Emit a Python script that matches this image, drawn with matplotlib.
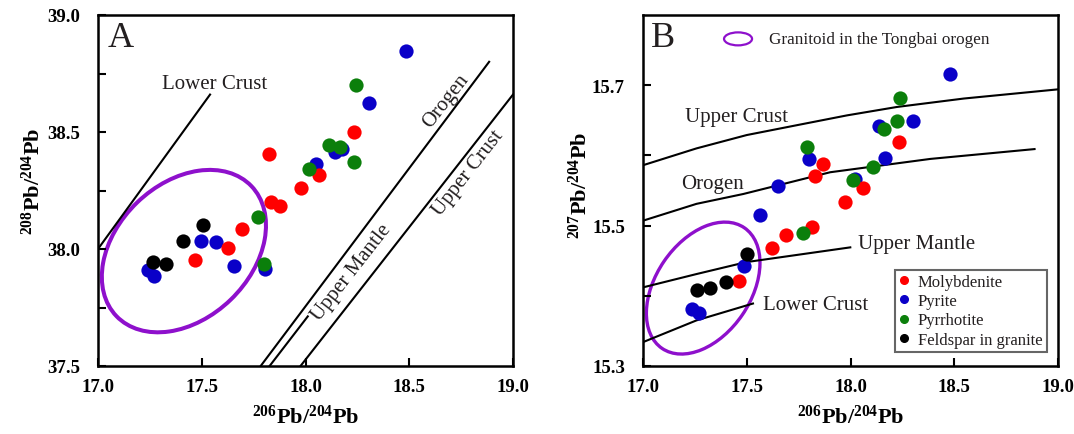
import matplotlib
matplotlib.use("Agg")
import matplotlib.pyplot as plt
from matplotlib.patches import Ellipse
from matplotlib.lines import Line2D
from matplotlib.transforms import Affine2D

plt.rcParams['font.family'] = ['Liberation Serif', 'DejaVu Serif']
plt.rcParams['mathtext.fontset'] = 'custom'
plt.rcParams['mathtext.rm'] = 'Liberation Serif:bold'
plt.rcParams['mathtext.it'] = 'Liberation Serif:bold'
plt.rcParams['mathtext.bf'] = 'Liberation Serif:bold'

# ---- data, panel A (208Pb/204Pb vs 206Pb/204Pb) ----
a_moly_x = [18.236, 17.824, 18.066, 17.978, 17.832, 17.875, 17.695, 17.625, 17.466]
a_moly_y = [38.501, 38.405, 38.318, 38.259, 38.202, 38.185, 38.085, 38.003, 37.952]
a_pyr_x = [18.484, 18.306, 18.144, 18.176, 18.051, 17.495, 17.571, 17.239, 17.271, 17.655, 17.805]
a_pyr_y = [38.845, 38.623, 38.416, 38.427, 38.363, 38.034, 38.029, 37.910, 37.883, 37.926, 37.915]
a_pyrr_x = [18.244, 18.115, 18.168, 18.232, 18.018, 17.772, 17.800]
a_pyrr_y = [38.701, 38.446, 38.437, 38.373, 38.342, 38.135, 37.936]
a_feld_x = [17.505, 17.409, 17.263, 17.330]
a_feld_y = [38.103, 38.034, 37.943, 37.935]

a_lower_crust_x = [17.0, 17.54]
a_lower_crust_y = [38.0, 38.66]
a_orogen_x = [17.784, 18.885]
a_orogen_y = [37.5, 38.80]
a_upper_crust_x = [17.976, 19.0]
a_upper_crust_y = [37.5, 38.66]
a_upper_mantle_x = [17.827, 18.011]
a_upper_mantle_y = [37.5, 37.712]

# ---- data, panel B (207Pb/204Pb vs 206Pb/204Pb) ----
b_moly_x = [18.232, 17.869, 17.830, 18.059, 17.974, 17.816, 17.691, 17.622, 17.463]
b_moly_y = [15.619, 15.588, 15.571, 15.553, 15.533, 15.498, 15.486, 15.468, 15.421]
b_pyr_x = [18.479, 18.300, 18.136, 17.798, 18.166, 17.651, 18.024, 17.566, 17.488, 17.234, 17.271]
b_pyr_y = [15.716, 15.649, 15.642, 15.595, 15.596, 15.557, 15.566, 15.515, 15.442, 15.381, 15.376]
b_pyrr_x = [18.239, 18.226, 18.162, 17.790, 18.108, 18.013, 17.771]
b_pyrr_y = [15.682, 15.649, 15.637, 15.612, 15.583, 15.565, 15.490]
b_feld_x = [17.501, 17.402, 17.322, 17.260]
b_feld_y = [15.460, 15.420, 15.411, 15.408]

b_upper_crust_x = [17.0, 17.258, 17.50, 17.741, 17.983, 18.224, 18.546, 18.997]
b_upper_crust_y = [15.586, 15.610, 15.629, 15.643, 15.657, 15.669, 15.681, 15.694]
b_orogen_x = [17.0, 17.258, 17.483, 17.902, 18.385, 18.887]
b_orogen_y = [15.507, 15.531, 15.545, 15.576, 15.595, 15.609]
b_upper_mantle_x = [17.0, 17.258, 17.498, 17.999]
b_upper_mantle_y = [15.412, 15.431, 15.448, 15.469]
b_lower_crust_x = [17.0, 17.258, 17.53]
b_lower_crust_y = [15.334, 15.365, 15.389]

names = ['Molybdenite', 'Pyrite', 'Pyrrhotite', 'Feldspar in granite']
colors = ['#ff0000', '#0a00c8', '#0b7f0b', '#000000']
purple = '#8e10cc'

fig = plt.figure(figsize=(10.74, 4.35), dpi=100)
axA = fig.add_axes([98 / 1074, 1 - 367 / 435, 415 / 1074, 351 / 435])
axB = fig.add_axes([643 / 1074, 1 - 367 / 435, 415 / 1074, 351 / 435])


def style(ax):
    for s in ax.spines.values():
        s.set_linewidth(1.8)
    ax.tick_params(which='both', direction='in', length=5.5, width=1.5,
                   top=False, right=False)
    ax.tick_params(axis='x', pad=9)
    ax.tick_params(axis='y', pad=13)
    for lab in ax.get_xticklabels() + ax.get_yticklabels():
        lab.set_fontweight('bold')
        lab.set_fontsize(13.5)
    ax.set_xlabel(r'$^{206}$Pb/$^{204}$Pb', fontsize=16, fontweight='bold')
    ax.xaxis.set_label_coords(0.5, -0.11)


def scatter(ax, xs, ys):
    # drawing order: pyrite, molybdenite, pyrrhotite, feldspar
    for i in [1, 0, 2, 3]:
        ax.scatter(xs[i], ys[i], s=105, color=colors[i], linewidths=0, zorder=3)


# ---------------- Panel A ----------------
axA.set_xlim(17.0, 19.0)
axA.set_ylim(37.5, 39.0)
axA.set_xticks([17.0, 17.5, 18.0, 18.5, 19.0])
axA.set_xticklabels(['17.0', '17.5', '18.0', '18.5', '19.0'])
axA.set_yticks([37.5, 38.0, 38.5, 39.0])
axA.set_yticklabels(['37.5', '38.0', '38.5', '39.0'])
axA.set_yticks([37.75, 38.25, 38.75], minor=True)
style(axA)
axA.set_ylabel(r'$^{208}$Pb/$^{204}$Pb', fontsize=16, fontweight='bold')
axA.yaxis.set_label_coords(-0.128, 0.53)

for lx, ly in [(a_lower_crust_x, a_lower_crust_y), (a_orogen_x, a_orogen_y),
               (a_upper_crust_x, a_upper_crust_y), (a_upper_mantle_x, a_upper_mantle_y)]:
    axA.plot(lx, ly, color='black', lw=1.5, zorder=2)

axA.text(17.564, 38.707, 'Lower Crust', fontsize=15, ha='center', va='center', color='#231f20')
axA.text(18.676, 38.636, 'Orogen', fontsize=15, ha='center', va='center', rotation=52, color='#231f20')
axA.text(18.783, 38.327, 'Upper Crust', fontsize=15, ha='center', va='center', rotation=52, color='#231f20')
axA.text(18.224, 37.901, 'Upper Mantle', fontsize=15, ha='center', va='center', rotation=52, color='#231f20')
axA.text(0.022, 0.935, 'A', transform=axA.transAxes, fontsize=26, ha='left', va='center', color='#231f20')

ellA = Ellipse((0, 0), 2 * 93.5, 2 * 67.3, angle=43.9, fill=False, ec=purple, lw=2.9,
               transform=Affine2D().scale(1 / 207.2, 1 / 233.3).translate(17.414, 37.991) + axA.transData)
axA.add_patch(ellA)

scatter(axA, [a_moly_x, a_pyr_x, a_pyrr_x, a_feld_x], [a_moly_y, a_pyr_y, a_pyrr_y, a_feld_y])

# ---------------- Panel B ----------------
axB.set_xlim(17.0, 19.0)
axB.set_ylim(15.3, 15.8)
axB.set_xticks([17.0, 17.5, 18.0, 18.5, 19.0])
axB.set_xticklabels(['17.0', '17.5', '18.0', '18.5', '19.0'])
axB.set_yticks([15.3, 15.5, 15.7])
axB.set_yticklabels(['15.3', '15.5', '15.7'])
axB.set_yticks([15.4, 15.6], minor=True)
style(axB)
axB.set_ylabel(r'$^{207}$Pb/$^{204}$Pb', fontsize=16, fontweight='bold')
axB.yaxis.set_label_coords(-0.123, 0.518)

for lx, ly in [(b_upper_crust_x, b_upper_crust_y), (b_orogen_x, b_orogen_y),
               (b_upper_mantle_x, b_upper_mantle_y), (b_lower_crust_x, b_lower_crust_y)]:
    axB.plot(lx, ly, color='black', lw=1.5, zorder=2)

axB.text(17.201, 15.656, 'Upper Crust', fontsize=15, ha='left', va='center', color='#231f20')
axB.text(17.186, 15.560, 'Orogen', fontsize=15, ha='left', va='center', color='#231f20')
axB.text(18.037, 15.474, 'Upper Mantle', fontsize=15, ha='left', va='center', color='#231f20')
axB.text(17.577, 15.387, 'Lower Crust', fontsize=15, ha='left', va='center', color='#231f20')
axB.text(0.018, 0.935, 'B', transform=axB.transAxes, fontsize=26, ha='left', va='center', color='#231f20')

ellB = Ellipse((0, 0), 2 * 72.8, 2 * 47.3, angle=55.7, fill=False, ec=purple, lw=2.4,
               transform=Affine2D().scale(1 / 207.0, 1 / 700.0).translate(17.290, 15.411) + axB.transData)
axB.add_patch(ellB)

scatter(axB, [b_moly_x, b_pyr_x, b_pyrr_x, b_feld_x], [b_moly_y, b_pyr_y, b_pyrr_y, b_feld_y])

# granitoid key at top of panel B
axB.add_patch(Ellipse((0.229, 0.932), 0.0675, 0.037, fill=False, ec=purple, lw=1.6,
                      transform=axB.transAxes))
axB.text(0.304, 0.932, 'Granitoid in the Tongbai orogen', transform=axB.transAxes,
         fontsize=12.3, ha='left', va='center', color='#231f20')

handles = [Line2D([], [], ls='none', marker='o', ms=5.5, mfc=c, mec=c) for c in colors]
leg = axB.legend(handles, names, loc='lower right', bbox_to_anchor=(0.973, 0.04),
                 borderaxespad=0, fontsize=12, frameon=True, fancybox=False,
                 handlelength=0.6, handletextpad=0.56, borderpad=0.25, labelspacing=0.2)
leg.get_frame().set_edgecolor('#404040')
leg.get_frame().set_linewidth(1.5)
for t in leg.get_texts():
    t.set_color('#231f20')

fig.savefig('out.png', dpi=100)
